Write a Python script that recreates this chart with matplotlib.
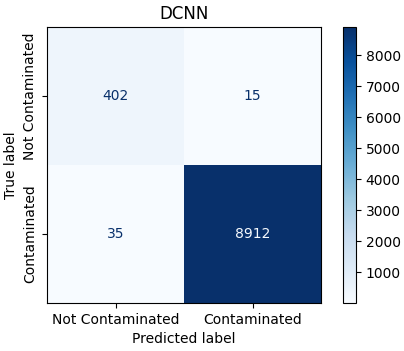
import matplotlib
matplotlib.use("Agg")
import matplotlib.pyplot as plt
import numpy as np

title = "DCNN"
class_labels = ["Not Contaminated", "Contaminated"]
cm_row_not = [402, 15]
cm_row_cont = [35, 8912]
cbar_ticks = [1000, 2000, 3000, 4000, 5000, 6000, 7000, 8000]

cm = np.array([cm_row_not, cm_row_cont])

fig = plt.figure(figsize=(4.04, 3.51), dpi=100)
ax = fig.add_axes([47/404, 1 - 303/351, 274/404, 276/351])
cax = fig.add_axes([343/404, 1 - 303/351, 13/404, 276/351])

cmap = plt.cm.Blues
im = ax.imshow(cm, cmap=cmap, aspect="auto")
vmin, vmax = cm.min(), cm.max()
thresh = (vmax + vmin) / 2.0
for i in range(2):
    for j in range(2):
        color = cmap(0.0) if cm[i, j] > thresh else cmap(1.0)
        ax.text(j, i, str(cm[i, j]), ha="center", va="center", color=color, fontsize=10)

ax.set_xticks(range(2))
ax.set_xticklabels(class_labels)
ax.set_yticks(range(2))
ax.set_yticklabels(class_labels, rotation=90, va="center")
ax.set_xlabel("Predicted label")
ax.set_ylabel("True label")
ax.set_title(title)

cb = fig.colorbar(im, cax=cax)
cb.set_ticks(cbar_ticks)

fig.savefig("out.png", dpi=100)
